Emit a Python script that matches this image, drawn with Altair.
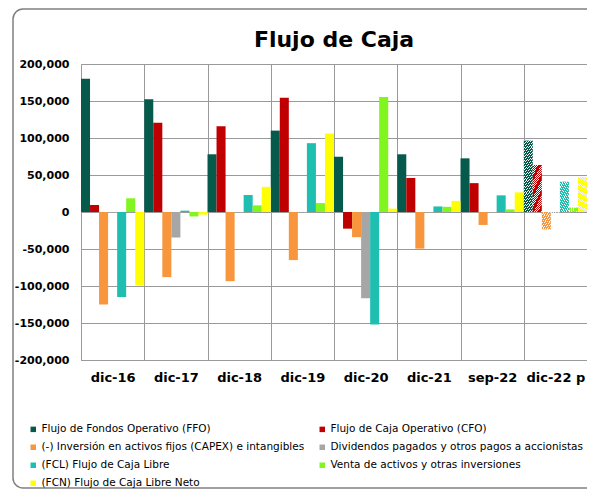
import altair as alt
import pandas as pd

categorias = ["dic-16", "dic-17", "dic-18", "dic-19", "dic-20", "dic-21", "sep-22", "dic-22 p"]

series = [
    "Flujo de Fondos Operativo (FFO)",
    "Flujo de Caja Operativo (CFO)",
    "(-) Inversión en activos fijos (CAPEX) e intangibles",
    "Dividendos pagados y otros pagos a accionistas",
    "(FCL) Flujo de Caja Libre",
    "Venta de activos y otras inversiones",
    "(FCN) Flujo de Caja Libre Neto",
]

ffo = [180000, 152500, 78000, 110000, 74500, 78000, 72500, 96500]
cfo = [9500, 120500, 116000, 154500, -22500, 46000, 39000, 63500]
capex = [-125000, -88000, -93500, -65000, -34000, -49500, -17500, -23500]
dividendos = [-1200, -34500, -1200, -1200, -116500, -1200, -1200, -1200]
fcl = [-115000, 1800, 23000, 93000, -152000, 7500, 22500, 41000]
venta = [18500, -6000, 9000, 12000, 155500, 7000, 3500, 6000]
fcn = [-99000, -3500, 34000, 106000, 4500, 15000, 26500, 47000]

colores = ["#065A4C", "#C00000", "#F7963C", "#A6A6A6", "#1EBFB0", "#80F51E", "#FFFF00"]

proyectado = "dic-22 p"
y_ticks = [-200000, -150000, -100000, -50000, 0, 50000, 100000, 150000, 200000]

rows = []
for s, vals in zip(series, [ffo, cfo, capex, dividendos, fcl, venta, fcn]):
    for c, v in zip(categorias, vals):
        rows.append({"categoria": c, "serie": s, "valor": v})
df = pd.DataFrame(rows)

GRID = "#9a9a9a"
FONT = "DejaVu Sans"

x_enc = alt.X(
    "categoria:N",
    sort=categorias,
    scale=alt.Scale(paddingInner=0, paddingOuter=0),
    axis=alt.Axis(
        title=None, labelAngle=0, labelFont=FONT, labelFontWeight="bold",
        labelFontSize=13, labelColor="black", labelPadding=11, ticks=False,
        domain=False, grid=True, gridColor=GRID, tickBand="extent",
    ),
)
xo_enc = alt.XOffset(
    "serie:N", sort=series,
    scale=alt.Scale(domain=series, paddingInner=0, paddingOuter=0),
)
y_enc = alt.Y(
    "valor:Q",
    scale=alt.Scale(domain=[-200000, 200000], nice=False),
    axis=alt.Axis(
        title=None, values=y_ticks, ticks=False, domain=False,
        labelExpr="datum.value < 0 ? '-' + format(-datum.value, ',') : format(datum.value, ',')",
        labelFont=FONT, labelFontWeight="bold", labelFontSize=11,
        labelColor="black", labelPadding=12, gridColor=GRID,
    ),
)

base = alt.Chart(df)

main = base.transform_filter(alt.datum.categoria != proyectado).mark_bar().encode(
    x=x_enc, xOffset=xo_enc, y=y_enc,
    color=alt.Color(
        "serie:N", sort=series,
        scale=alt.Scale(domain=series, range=colores),
        legend=alt.Legend(
            title=None, orient="none", legendX=-53, legendY=360, columns=2,
            direction="horizontal",
            symbolType="square", symbolSize=30, symbolStrokeWidth=0,
            labelFont=FONT, labelFontSize=10.5, labelColor="black",
            labelOffset=3, labelLimit=400, rowPadding=7, columnPadding=12,
            padding=0,
        ),
    ),
)


def hatch(color, n=44):
    stops = []
    for i in range(n):
        a = i / n
        m = (i + 0.68) / n
        b = (i + 1) / n
        stops += [
            alt.GradientStop(offset=a, color=color),
            alt.GradientStop(offset=m, color=color),
            alt.GradientStop(offset=m, color="#f4f4f4"),
            alt.GradientStop(offset=b, color="#f4f4f4"),
        ]
    return alt.LinearGradient(gradient="linear", stops=stops, x1=0, y1=0, x2=1, y2=1)


hatched = []
for s, col in zip(series, colores):
    hatched.append(
        base.transform_filter(
            (alt.datum.categoria == proyectado) & (alt.datum.serie == s)
        ).mark_bar(color=hatch(col)).encode(x=x_enc, xOffset=xo_enc, y=y_enc)
    )

frame = alt.Chart(alt.Data(values=[{"k": 1}])).mark_rect(
    fillOpacity=0, stroke="#808080", strokeWidth=1.5, cornerRadius=10
).encode(
    x=alt.value(-68), x2=alt.value(560), y=alt.value(-55), y2=alt.value(424)
)

chart = alt.layer(frame, main, *hatched).properties(
    width=506,
    height=296,
    autosize=alt.AutoSizeParams(type="none"),
    padding={"left": 73, "top": 56, "right": 0, "bottom": 130},
    background="white",
    title=alt.TitleParams(
        "Flujo de Caja", font=FONT, fontSize=22, fontWeight="bold",
        color="black", anchor="middle", frame="group", offset=0,
        baseline="alphabetic", dy=61,
    ),
).configure_view(stroke=GRID)

chart.save("out.html", embed_options={"renderer": "svg", "actions": False})
